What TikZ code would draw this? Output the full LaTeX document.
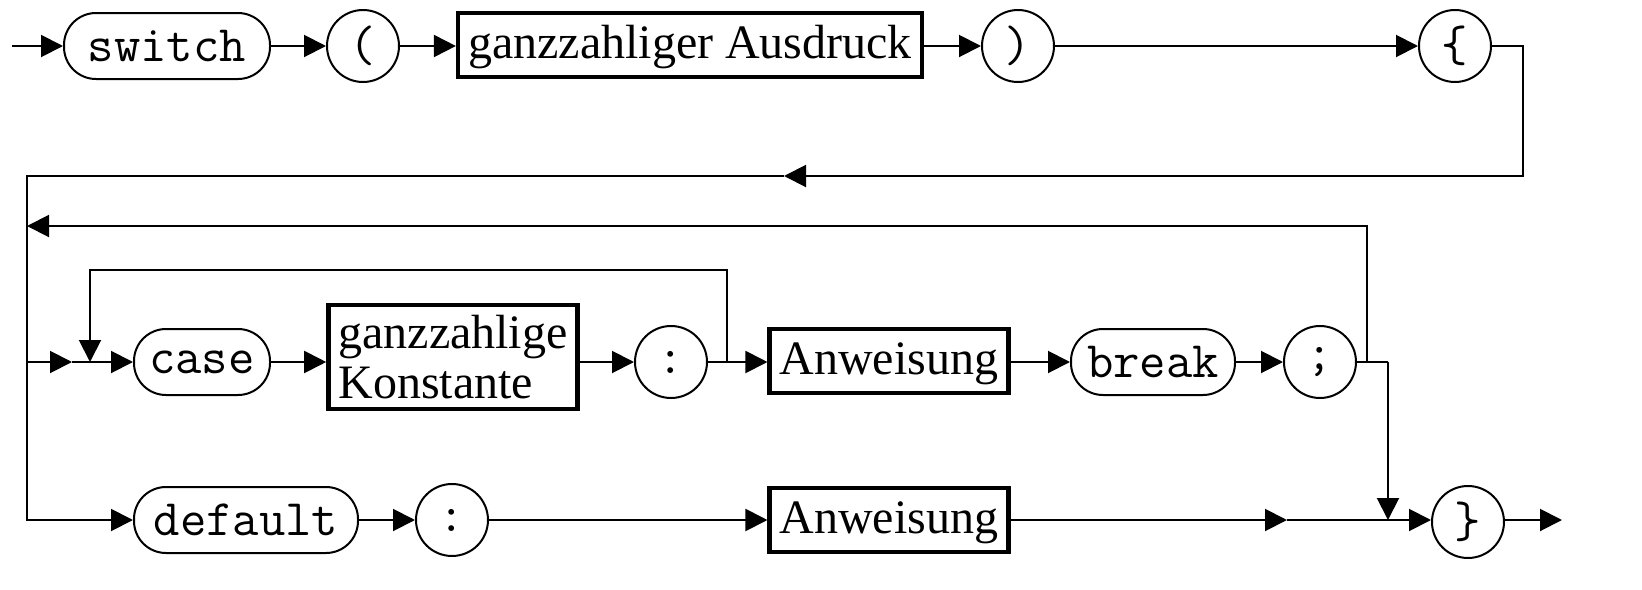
\documentclass[tikz,border=0pt]{standalone}
\usepackage{fontspec}
\setmainfont{Liberation Serif}
\usetikzlibrary{arrows.meta}

\tikzset{
  conn/.style={line width=0.5pt},
  arr/.style={conn, -{Triangle[length=5.5pt, width=5.5pt]}},
  term/.style={draw, line width=0.5pt, rounded corners=8pt, minimum height=16.5pt, inner xsep=0pt, font=\fontsize{12.8}{13}\selectfont\ttfamily},
  sym/.style={draw, line width=0.5pt, circle, minimum size=18pt, inner sep=0pt, font=\fontsize{12.8}{13}\selectfont\ttfamily},
  nonterm/.style={draw, line width=1.1pt, inner xsep=2.5pt, inner ysep=1pt, text height=9.5pt, text depth=3pt, minimum height=16pt, font=\fontsize{12}{12.5}\selectfont},
  nonterm2/.style={draw, line width=1.1pt, inner xsep=2.5pt, inner ysep=2.5pt, font=\fontsize{12}{12.5}\selectfont}
}

\begin{document}
\begin{tikzpicture}[x=0.25pt, y=-0.25pt]
\useasboundingbox (0,0) rectangle (1642,590);
% Draw first row
\node[term, minimum width=51.5pt] (switch) at (167,46) {switch};
\node[sym] (lpar) at (363,46) {(};
\node[nonterm] (expr) at (690,45) {ganzzahliger Ausdruck};
\node[sym] (rpar) at (1018,46) {)};
\node[sym] (lbrace) at (1455,46) {\{};
% Draw case row
\node[term, minimum width=34pt] (case) at (202,362) {case};
\node[nonterm2, align=left] (const) at (453,357) {ganzzahlige\\Konstante};
\node[sym] (colonA) at (671,362) {:};
\node[nonterm] (stmtA) at (889,361) {Anweisung};
\node[term, minimum width=41pt] (break) at (1153,362) {break};
\node[sym] (semi) at (1320,362) {;};
% Draw default row
\node[term, minimum width=56pt] (default) at (246,520) {default};
\node[sym] (colonB) at (452,520) {:};
\node[nonterm] (stmtB) at (889,520) {Anweisung};
\node[sym] (rbrace) at (1468,522) {\}};
% Coordinates
\coordinate (start) at (12,46);
\coordinate (turnR) at (1523,176);
\coordinate (midtop) at (784,176);
\coordinate (topleft) at (27,176);
\coordinate (botleft) at (27,520);
\coordinate (caseleft) at (27,362);
\coordinate (join) at (72,362);
\coordinate (loopfork) at (727,362);
\coordinate (loopend) at (90,362);
\coordinate (backfork) at (1367,362);
\coordinate (backend) at (27,226);
\coordinate (downfork) at (1388,362);
\coordinate (merge) at (1388,520);
\coordinate (middef) at (1287,520);
\coordinate (exit) at (1562,520);
% Draw connectors
\draw[arr] (start) -- (switch);
\draw[arr] (switch) -- (lpar);
\draw[arr] (lpar) -- (expr.west |- lpar);
\draw[arr] (expr.east |- rpar) -- (rpar);
\draw[arr] (rpar) -- (lbrace);
\draw[arr] (lbrace.east) -| (turnR) -- (midtop);
\draw[arr] (midtop) -- (topleft) -- (botleft) -- (default);
\draw[arr] (caseleft) -- (join);
\draw[arr] (join) -- (case);
\draw[arr] (case) -- (const.west |- case);
\draw[arr] (const.east |- colonA) -- (colonA);
\draw[arr] (colonA) -- (stmtA.west |- colonA);
\draw[arr] (loopfork) -- (727,270) -| (loopend);
\draw[arr] (stmtA.east |- break) -- (break);
\draw[arr] (break) -- (semi);
\draw[conn] (semi) -- (downfork);
\draw[arr] (backfork) |- (backend);
\draw[arr] (downfork) -- (merge);
\draw[arr] (default) -- (colonB);
\draw[arr] (colonB) -- (stmtB);
\draw[arr] (stmtB) -- (middef);
\draw[arr] (middef) -- (rbrace.west |- middef);
\draw[arr] (rbrace.east |- exit) -- (exit);
\end{tikzpicture}
\end{document}
